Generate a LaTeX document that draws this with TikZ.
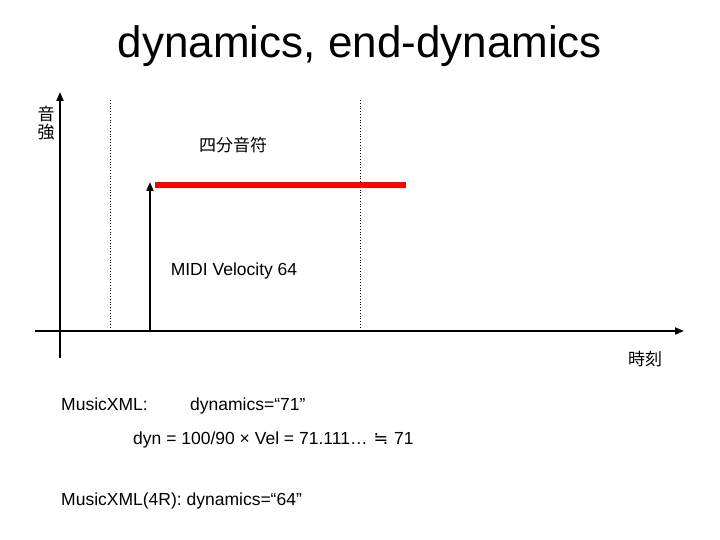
\documentclass[tikz,border=0pt]{standalone}
\usepackage{fontspec}
\setmainfont{Liberation Sans}
\newfontfamily\cjk{Noto Sans CJK JP}
\newfontfamily\dejavu{DejaVu Sans}
\usetikzlibrary{arrows.meta}
\begin{document}
\begin{tikzpicture}[x=1pt,y=-1pt,
  lbl/.style={inner sep=0pt,anchor=base west,font=\fontsize{17.5}{20}\selectfont},
  jlbl/.style={inner sep=0pt,font=\cjk\fontsize{17}{18}\selectfont},
  axis/.style={line width=2pt,-{Triangle[length=9pt,width=7pt]}},
  guide/.style={line width=0.8pt,dotted}]
\useasboundingbox (0,0) rectangle (720,540);
% title
\node[inner sep=0pt,font=\fontsize{44}{48}\selectfont] (title) at (360,46) {dynamics, end-dynamics};
% axes
\coordinate (yb) at (60,358);
\coordinate (yt) at (60,92);
\coordinate (xl) at (35,331);
\coordinate (xr) at (684,331);
\draw[axis] (yb) -- (yt);
\draw[axis] (xl) -- (xr);
% guides
\coordinate (g1t) at (110,100);
\coordinate (g1b) at (110,330);
\coordinate (g2t) at (360,100);
\coordinate (g2b) at (360,330);
\draw[guide] (g1t) -- (g1b);
\draw[guide] (g2t) -- (g2b);
% velocity arrow
\coordinate (vb) at (150,331);
\coordinate (vt) at (150,182);
\draw[axis] (vb) -- (vt);
% note bar
\coordinate (n1) at (155,185);
\coordinate (n2) at (406,185);
\draw[red,line width=6pt] (n1) -- (n2);
% labels
\node[jlbl] (vol1) at (46,114) {音};
\node[jlbl] (vol2) at (46,132) {強};
\node[jlbl] (quarter) at (233,145) {四分音符};
\node[lbl,anchor=base] (midi) at (234,275) {MIDI Velocity 64};
\node[jlbl] (time) at (645,359) {時刻};
\node[lbl] (mx) at (61,410) {MusicXML:};
\node[lbl] (dyn) at (190,410) {dynamics=“71”};
\node[lbl] (calc) at (133,444) {dyn = 100/90 × Vel = 71.111…\hspace{6pt}{\dejavu ≒}\hspace{6pt}71};
\node[lbl] (mx4) at (61,505) {MusicXML(4R): dynamics=“64”};
\end{tikzpicture}
\end{document}
